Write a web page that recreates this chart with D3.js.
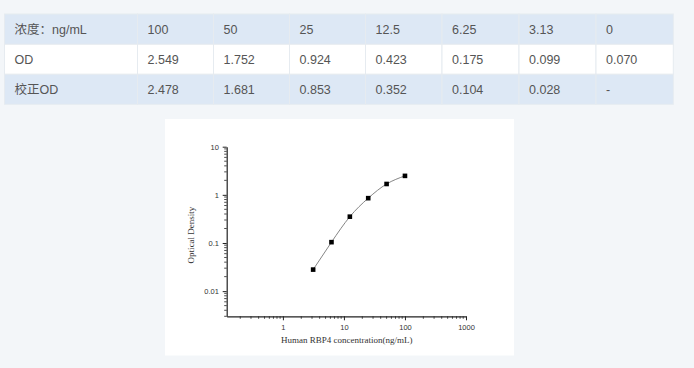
<!DOCTYPE html>
<html><head><meta charset="utf-8">
<script src="https://cdn.jsdelivr.net/npm/d3@7"></script>
<style>
html,body{margin:0;padding:0;background:#f3f6f9;}
svg{display:block;}
</style></head>
<body>
<svg id="c" width="694" height="368"></svg>
<script>
// ---- data ----
const rowHeaders = ["浓度：ng/mL", "OD", "校正OD"];
const concLabels = ["100", "50", "25", "12.5", "6.25", "3.13", "0"];
const odLabels = ["2.549", "1.752", "0.924", "0.423", "0.175", "0.099", "0.070"];
const corrLabels = ["2.478", "1.681", "0.853", "0.352", "0.104", "0.028", "-"];
const concValues = [100, 50, 25, 12.5, 6.25, 3.13];
const corrValues = [2.478, 1.681, 0.853, 0.352, 0.104, 0.028];
const xTickValues = [1, 10, 100, 1000];
const yTickValues = [0.01, 0.1, 1, 10];
const xTitle = "Human RBP4 concentration(ng/mL)";
const yTitle = "Optical Density";

const svg = d3.select("#c");
svg.append("rect").attr("width",694).attr("height",368).attr("fill","#f3f6f9");

// ---- table ----
const colEdges = [4.5, 137.5, 213.5, 289.5, 365.5, 442, 519, 596, 673.3];
const rowEdges = [14, 44.3, 74.3, 104.3];
const rowFill = ["#dde8f5", "#ffffff", "#dde8f5"];
const rows = [[rowHeaders[0], ...concLabels],[rowHeaders[1], ...odLabels],[rowHeaders[2], ...corrLabels]];
const tbl = svg.append("g");
rows.forEach((r, i) => {
  r.forEach((t, j) => {
    const x0 = colEdges[j], x1 = colEdges[j+1], y0 = rowEdges[i], y1 = rowEdges[i+1];
    tbl.append("rect").attr("x", x0).attr("y", y0).attr("width", x1-x0).attr("height", y1-y0)
      .attr("fill", rowFill[i]).attr("stroke", "#e6ebf0").attr("stroke-width", 1);
    tbl.append("text").attr("x", x0 + 10).attr("y", (y0+y1)/2 + 4.5)
      .attr("font-family", "Arial, 'Liberation Sans', 'Noto Sans CJK SC', sans-serif")
      .attr("font-size", 12.5).attr("fill", "#555").text(t);
  });
});

// ---- chart panel ----
svg.append("rect").attr("x",165).attr("y",119).attr("width",349).attr("height",236.5).attr("fill","#fff");

const x = d3.scaleLog().domain([0.12, 1000]).range([226.7, 466]);
const y = d3.scaleLog().domain([0.003, 10]).range([316.3, 146.7]);
const g = svg.append("g");
const axisColor = "#222";

// x axis
const xAxis = d3.axisBottom(x).tickValues(xTickValues).tickFormat(d3.format("")).tickSize(4).tickSizeOuter(0);
const gx = g.append("g").attr("transform","translate(0,316.3)").call(xAxis);
gx.select(".domain").attr("stroke",axisColor).attr("stroke-width",1.2);
gx.selectAll(".tick line").attr("stroke",axisColor);
gx.selectAll(".tick text").attr("font-family","Arial, 'Liberation Sans', sans-serif").attr("font-size",7.5).attr("fill","#333").attr("dy","0.9em");
const xMinor = [];
[-1,0,1,2].forEach(e => { for (let k=2;k<=9;k++){ const v=k*Math.pow(10,e); if (v>=0.12 && v<=1000) xMinor.push(v);} });
g.append("g").selectAll("line").data(xMinor).join("line")
  .attr("x1",d=>x(d)).attr("x2",d=>x(d)).attr("y1",316.3).attr("y2",318.8).attr("stroke",axisColor).attr("stroke-width",0.8);

// y axis
const yAxis = d3.axisLeft(y).tickValues(yTickValues).tickFormat(d3.format("")).tickSize(4).tickSizeOuter(0);
const gy = g.append("g").attr("transform","translate(226.7,0)").call(yAxis);
gy.select(".domain").attr("stroke",axisColor).attr("stroke-width",1.2);
gy.selectAll(".tick line").attr("stroke",axisColor);
gy.selectAll(".tick text").attr("font-family","Arial, 'Liberation Sans', sans-serif").attr("font-size",7.5).attr("fill","#333").attr("dx","-0.1em");
const yMinor = [];
[-3,-2,-1,0].forEach(e => { for (let k=2;k<=9;k++){ const v=k*Math.pow(10,e); if (v>=0.003 && v<=10) yMinor.push(v);} });
g.append("g").selectAll("line").data(yMinor).join("line")
  .attr("x1",224.2).attr("x2",226.7).attr("y1",d=>y(d)).attr("y2",d=>y(d)).attr("stroke",axisColor).attr("stroke-width",0.8);

// curve
const pts = concValues.map((c,i)=>[c, corrValues[i]]).sort((a,b)=>a[0]-b[0]);
const line = d3.line().x(d=>x(d[0])).y(d=>y(d[1])).curve(d3.curveNatural);
g.append("path").attr("d", line(pts)).attr("fill","none").attr("stroke","#777").attr("stroke-width",0.9);

// points
g.append("g").selectAll("rect").data(pts).join("rect")
  .attr("x",d=>x(d[0])-2.3).attr("y",d=>y(d[1])-2.3).attr("width",4.6).attr("height",4.6).attr("fill","#000");

// titles
g.append("text").attr("x",346.7).attr("y",343).attr("text-anchor","middle")
  .attr("font-family","'Liberation Serif', 'Times New Roman', serif").attr("font-size",9).attr("fill","#333").text(xTitle);
g.append("text").attr("transform","translate(194,235) rotate(-90)").attr("text-anchor","middle")
  .attr("font-family","'Liberation Serif', 'Times New Roman', serif").attr("font-size",9).attr("fill","#333").text(yTitle);
</script>
</body></html>
